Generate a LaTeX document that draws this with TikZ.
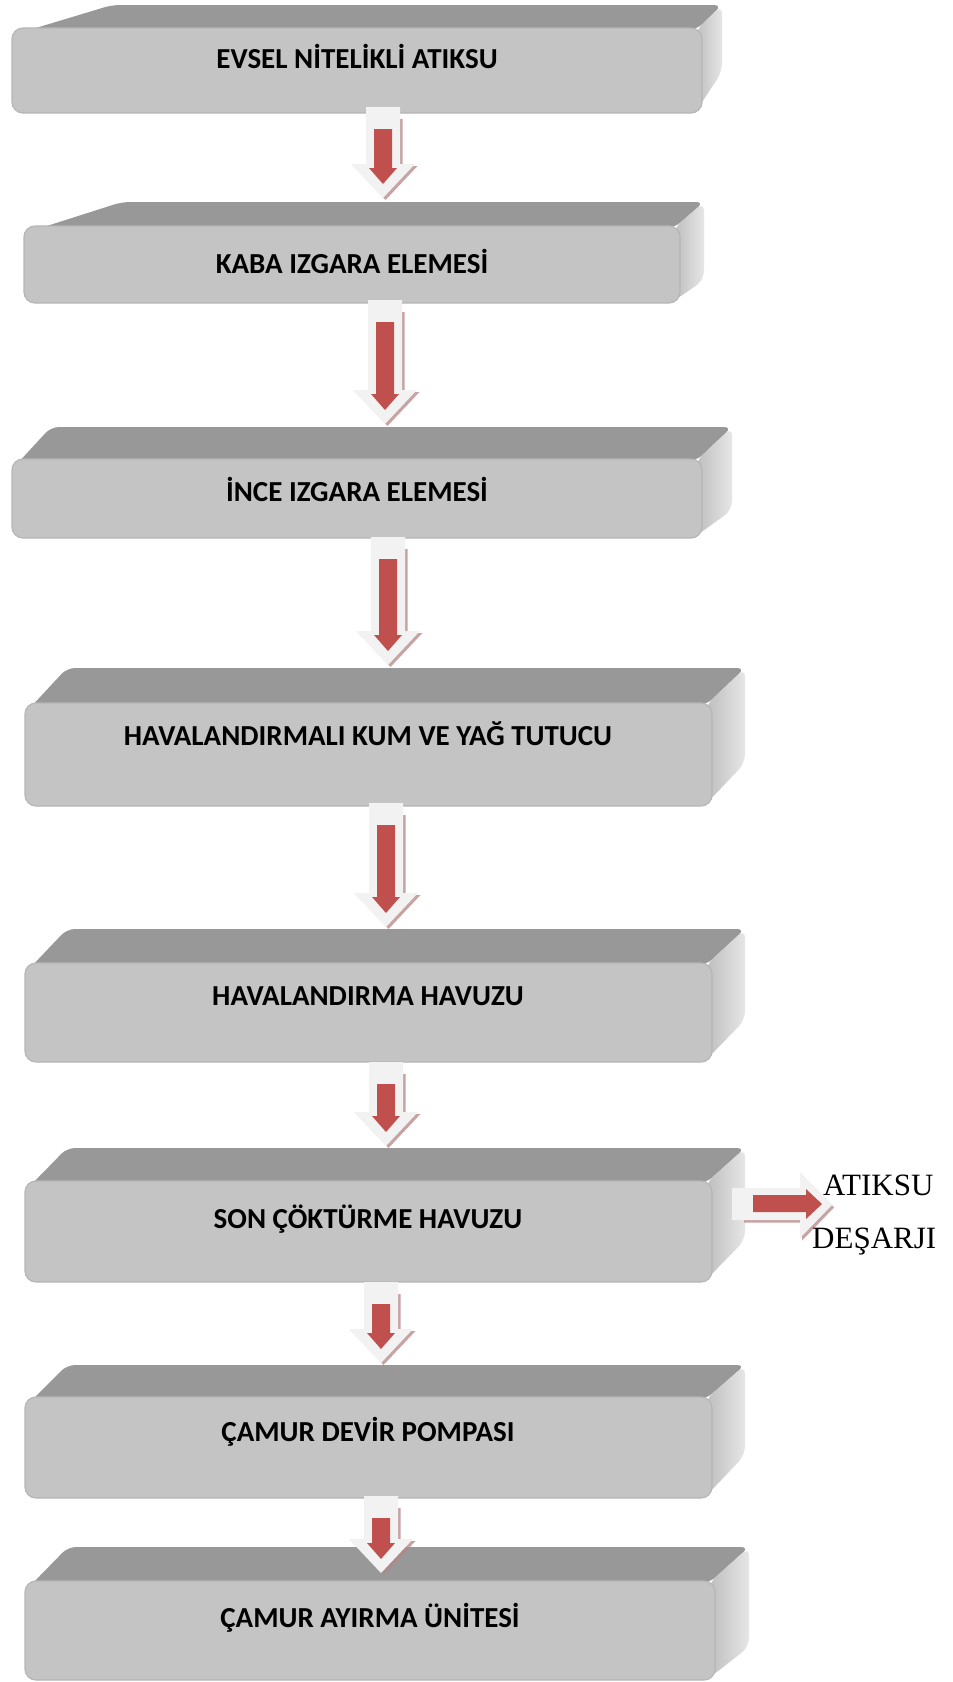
\documentclass[tikz,border=0pt]{standalone}
\usepackage{fontspec}
\setmainfont{Carlito}
\newfontfamily\serifA{Liberation Serif}
\definecolor{topc}{HTML}{989898}
\definecolor{frontc}{HTML}{C4C4C4}
\definecolor{frontl}{HTML}{B6B6B6}
\definecolor{sideA}{HTML}{BEBEBE}
\definecolor{sideB}{HTML}{E6E6E6}
\definecolor{arrred}{HTML}{C0504D}
\definecolor{arrwhite}{HTML}{F2F2F2}
\definecolor{arrshadow}{HTML}{B58585}
% slab: xl, xr, yt, yb, yback, xlb, xrb, ysb
\newcommand\slab[8]{%
  \fill[topc, rounded corners=8] (#1+4,#3+6) -- (#6,#5) -- (#7,#5) -- (#2-6,#3+2) -- cycle;
  \shade[left color=sideA, right color=sideB, rounded corners=9] (#2-6,#3+2) -- (#7,#5) -- (#7,#8) -- (#2-6,#4-2) -- cycle;
  \fill[frontc, draw=frontl, line width=1.2, rounded corners=11] (#1,#3) rectangle (#2,#4);
}
% down arrow: x, ytop, ytip
\newcommand\darrow[3]{%
  \begin{scope}[shift={(2.5,2)}]
    \fill[arrshadow, opacity=0.75] (#1-17,#2+10) -- (#1+17,#2+10) -- (#1+17,#3-34) -- (#1+32,#3-34) -- (#1,#3) -- (#1-32,#3-34) -- (#1-17,#3-34) -- cycle;
  \end{scope}
  \fill[arrwhite] (#1-17,#2) -- (#1+17,#2) -- (#1+17,#3-34) -- (#1+32,#3-34) -- (#1,#3) -- (#1-32,#3-34) -- (#1-17,#3-34) -- cycle;
  \fill[arrred] (#1-9,#2+22) -- (#1+9,#2+22) -- (#1+9,#3-30) -- (#1+14,#3-30) -- (#1,#3-14) -- (#1-14,#3-30) -- (#1-9,#3-30) -- cycle;
}
\tikzset{lab/.style={font=\bfseries\fontsize{29}{35}\selectfont, inner sep=0pt, text height=19pt, text depth=0pt, anchor=center},
  side/.style={font=\serifA\fontsize{31}{37}\selectfont, inner sep=0pt, anchor=base west}}
\begin{document}
\begin{tikzpicture}[x=1pt, y=-1pt]
\fill[white] (0,0) rectangle (953,1682);
\useasboundingbox (0,0) rectangle (953,1682);
% boxes
\slab{12}{702}{28}{113}{5}{112}{722}{72}
\slab{24}{680}{226}{303}{202}{122}{704}{280}
\slab{12}{702}{459}{538}{427}{51}{732}{510}
\slab{25}{712}{703}{806}{668}{67}{745}{763}
\slab{25}{712}{963}{1062}{929}{67}{745}{1020}
\slab{25}{712}{1181}{1282}{1148}{67}{745}{1240}
\slab{25}{712}{1397}{1498}{1365}{67}{745}{1455}
\slab{25}{715}{1581}{1680}{1547}{68}{749}{1647}
% labels
\node[lab] (b1) at (357,59) {EVSEL NİTELİKLİ ATIKSU};
\node[lab] (b2) at (352,264) {KABA IZGARA ELEMESİ};
\node[lab] (b3) at (357,492) {İNCE IZGARA ELEMESİ};
\node[lab] (b4) at (368,736) {HAVALANDIRMALI KUM VE YAĞ TUTUCU};
\node[lab] (b5) at (368,996) {HAVALANDIRMA HAVUZU};
\node[lab] (b6) at (368,1219) {SON ÇÖKTÜRME HAVUZU};
\node[lab] (b7) at (368,1432) {ÇAMUR DEVİR POMPASI};
\node[lab] (b8) at (370,1618) {ÇAMUR AYIRMA ÜNİTESİ};
% down arrows
\darrow{383}{107}{198}
\darrow{385}{300}{424}
\darrow{388}{537}{665}
\darrow{386}{803}{927}
\darrow{386}{1062}{1146}
\darrow{381}{1282}{1363}
\darrow{381}{1496}{1573}
% side arrow
\begin{scope}[shift={(2,2.5)}]
  \fill[arrshadow, opacity=0.75] (742,1190) -- (800,1190) -- (800,1172) -- (832,1205) -- (800,1238) -- (800,1220) -- (742,1220) -- cycle;
\end{scope}
\fill[arrwhite] (732,1188) -- (800,1188) -- (800,1172) -- (832,1205) -- (800,1238) -- (800,1220) -- (732,1220) -- cycle;
\fill[arrred] (753,1195) -- (806,1195) -- (806,1189) -- (822,1204) -- (806,1219) -- (806,1212) -- (753,1212) -- cycle;
\node[side] (t1) at (823,1195) {ATIKSU};
\node[side] (t2) at (812,1248) {DEŞARJI};
\end{tikzpicture}
\end{document}
